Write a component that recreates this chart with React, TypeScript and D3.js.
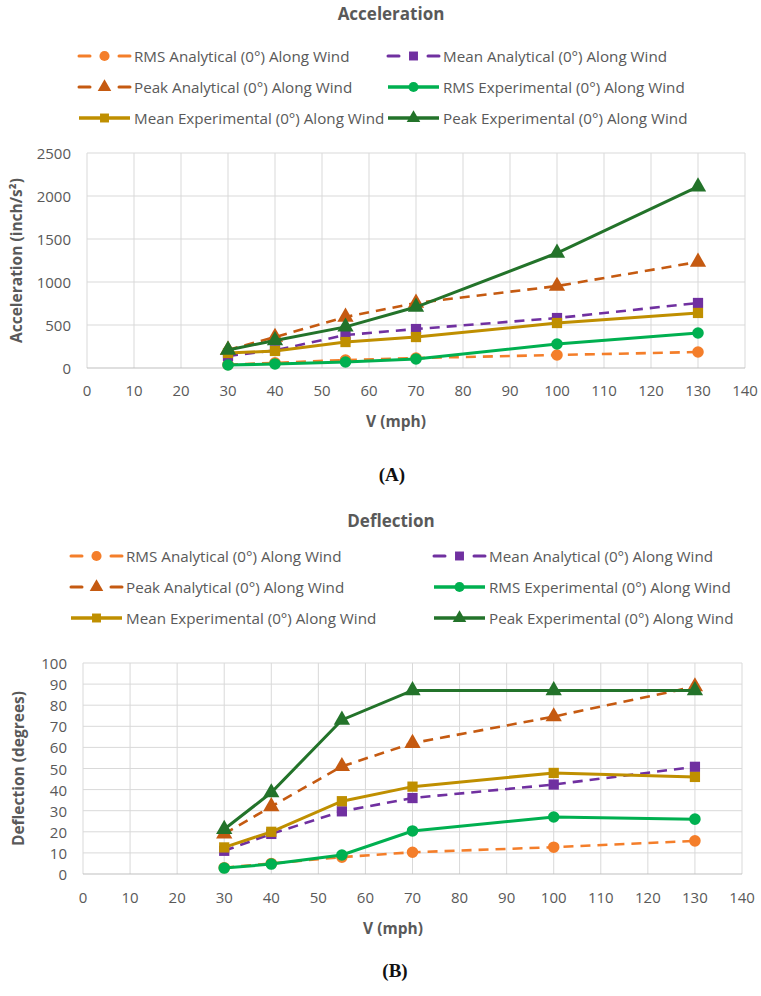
import React from "react";
import * as d3 from "d3";

const speeds = [30, 40, 55, 70, 100, 130];
const xTicks = d3.range(0, 141, 10);

const seriesNames = [
  "RMS Analytical (0°) Along Wind",
  "Mean Analytical (0°) Along Wind",
  "Peak Analytical (0°) Along Wind",
  "RMS Experimental (0°) Along Wind",
  "Mean Experimental (0°) Along Wind",
  "Peak Experimental (0°) Along Wind",
];
const seriesColors = ["#F47E2A", "#7030A0", "#C55A11", "#00B050", "#BF8F00", "#23732A"];
const seriesDashed = [true, true, true, false, false, false];
const seriesMarkers = ["circle", "square", "triangle", "circle", "square", "triangle"];

// Acceleration (inch/s²)
const accRmsAnalytical = [40, 60, 93, 116, 151, 186];
const accMeanAnalytical = [140, 205, 384, 453, 581, 756];
const accPeakAnalytical = [209, 360, 593, 756, 953, 1233];
const accRmsExperimental = [35, 47, 70, 105, 279, 407];
const accMeanExperimental = [174, 198, 302, 360, 523, 640];
const accPeakExperimental = [210, 320, 478, 709, 1337, 2108];
const accYTicks = [0, 500, 1000, 1500, 2000, 2500];

// Deflection (degrees)
const defRmsAnalytical = [3, 5, 8, 10.3, 12.7, 15.7];
const defMeanAnalytical = [11, 19, 29.7, 36, 42.4, 50.8];
const defPeakAnalytical = [19, 32, 51, 62, 74.6, 88.8];
const defRmsExperimental = [2.8, 4.7, 9, 20.4, 27, 26];
const defMeanExperimental = [12.6, 20, 34.5, 41.4, 47.9, 46];
const defPeakExperimental = [21.2, 38.6, 73, 87, 87, 87];
const defYTicks = [0, 10, 20, 30, 40, 50, 60, 70, 80, 90, 100];

const FONT = "'Open Sans', sans-serif";
const GREY = "#595959";

function markerPath(kind: string, size: number) {
  const t = kind === "circle" ? d3.symbolCircle : kind === "square" ? d3.symbolSquare : d3.symbolTriangle;
  return d3.symbol().type(t).size(size)() as string;
}

type ChartProps = {
  title: string;
  titleY: number;
  yLabel: string;
  yTicks: number[];
  data: number[][];
  plot: { x0: number; x1: number; y0: number; y1: number };
  legendRows: number[];
  legendCols: number[];
  yLabelX: number;
  xLabelX: number;
  xLabelY: number;
  tickY: number;
  panel: string;
  panelY: number;
  panelX: number;
};

function Chart(p: ChartProps) {
  const x = d3.scaleLinear().domain([0, 140]).range([p.plot.x0, p.plot.x1]);
  const yMax = p.yTicks[p.yTicks.length - 1];
  const y = d3.scaleLinear().domain([0, yMax]).range([p.plot.y1, p.plot.y0]);
  const line = d3
    .line<number>()
    .x((_, i) => x(speeds[i]))
    .y((d) => y(d));
  return (
    <g>
      <text x={391} y={p.titleY} textAnchor="middle" dominantBaseline="central" fontFamily={FONT} fontWeight={700} fontSize={17} fill={GREY}>
        {p.title}
      </text>
      {seriesNames.map((name, i) => {
        const col = i % 2;
        const row = Math.floor(i / 2);
        const lx = p.legendCols[col];
        const ly = p.legendRows[row];
        const color = seriesColors[i];
        return (
          <g key={name}>
            {seriesDashed[i] ? (
              <>
                <line x1={lx} x2={lx + 11} y1={ly} y2={ly} stroke={color} strokeWidth={3} strokeLinecap="round" />
                <line x1={lx + 40} x2={lx + 51} y1={ly} y2={ly} stroke={color} strokeWidth={3} strokeLinecap="round" />
              </>
            ) : (
              <line x1={lx} x2={lx + 51} y1={ly} y2={ly} stroke={color} strokeWidth={3.5} />
            )}
            <path d={markerPath(seriesMarkers[i], 80)} transform={`translate(${lx + 25.5},${ly})`} fill={color} />
            <text x={lx + 55} y={ly} dominantBaseline="central" fontFamily={FONT} fontSize={15.2} fill={GREY}>
              {name}
            </text>
          </g>
        );
      })}
      {xTicks.map((t) => (
        <line key={"gx" + t} x1={x(t)} x2={x(t)} y1={p.plot.y0} y2={p.plot.y1} stroke="#D9D9D9" strokeWidth={1} />
      ))}
      {p.yTicks.map((t) => (
        <line key={"gy" + t} x1={p.plot.x0} x2={p.plot.x1} y1={y(t)} y2={y(t)} stroke={t === 0 ? "#BFBFBF" : "#D9D9D9"} strokeWidth={1} />
      ))}
      {p.yTicks.map((t) => (
        <text key={"ty" + t} x={p.plot.x0 - 16} y={y(t)} textAnchor="end" dominantBaseline="central" fontFamily={FONT} fontSize={15} fill={GREY}>
          {t}
        </text>
      ))}
      {xTicks.map((t) => (
        <text key={"tx" + t} x={x(t)} y={p.tickY} textAnchor="middle" dominantBaseline="central" fontFamily={FONT} fontSize={15} fill={GREY}>
          {t}
        </text>
      ))}
      <text
        transform={`translate(${p.yLabelX},${(p.plot.y0 + p.plot.y1) / 2}) rotate(-90)`}
        textAnchor="middle"
        dominantBaseline="central"
        fontFamily={FONT}
        fontWeight={700}
        fontSize={15.5}
        fill={GREY}
      >
        {p.yLabel}
      </text>
      <text x={p.xLabelX} y={p.xLabelY} textAnchor="middle" dominantBaseline="central" fontFamily={FONT} fontWeight={700} fontSize={15.5} fill={GREY}>
        V (mph)
      </text>
      {p.data.map((vals, i) => (
        <g key={"s" + i}>
          <path
            d={line(vals) as string}
            fill="none"
            stroke={seriesColors[i]}
            strokeWidth={seriesDashed[i] ? 2.6 : 3}
            strokeDasharray={seriesDashed[i] ? "10 7" : undefined}
          />
          {vals.map((v, j) => (
            <path
              key={j}
              d={markerPath(seriesMarkers[i], seriesMarkers[i] === "triangle" ? 115 : 105)}
              transform={`translate(${x(speeds[j])},${y(v)})`}
              fill={seriesColors[i]}
            />
          ))}
        </g>
      ))}
      <text x={p.panelX} y={p.panelY} textAnchor="middle" dominantBaseline="central" fontFamily="'Liberation Serif', 'Times New Roman', serif" fontWeight={700} fontSize={19} fill="#111">
        {p.panel}
      </text>
    </g>
  );
}

export default function App() {
  return (
    <svg width={761} height={996} style={{ position: "absolute", left: 0, top: 0, background: "#fff" }}>
      <rect width={761} height={996} fill="#fff" />
      <Chart
        title="Acceleration"
        titleY={13}
        yLabel="Acceleration (inch/s²)"
        yTicks={accYTicks}
        data={[accRmsAnalytical, accMeanAnalytical, accPeakAnalytical, accRmsExperimental, accMeanExperimental, accPeakExperimental]}
        plot={{ x0: 87, x1: 745, y0: 153, y1: 368 }}
        legendRows={[56, 87, 118]}
        legendCols={[79, 388]}
        yLabelX={16}
        xLabelX={396}
        xLabelY={421}
        tickY={390}
        panel="(A)"
        panelX={392}
        panelY={474}
      />
      <Chart
        title="Deflection"
        titleY={520}
        yLabel="Deflection (degrees)"
        yTicks={defYTicks}
        data={[defRmsAnalytical, defMeanAnalytical, defPeakAnalytical, defRmsExperimental, defMeanExperimental, defPeakExperimental]}
        plot={{ x0: 83, x1: 742, y0: 663, y1: 874 }}
        legendRows={[556, 587, 618]}
        legendCols={[71, 434]}
        yLabelX={18}
        xLabelX={393}
        xLabelY={928}
        tickY={897}
        panel="(B)"
        panelX={395}
        panelY={970}
      />
    </svg>
  );
}
